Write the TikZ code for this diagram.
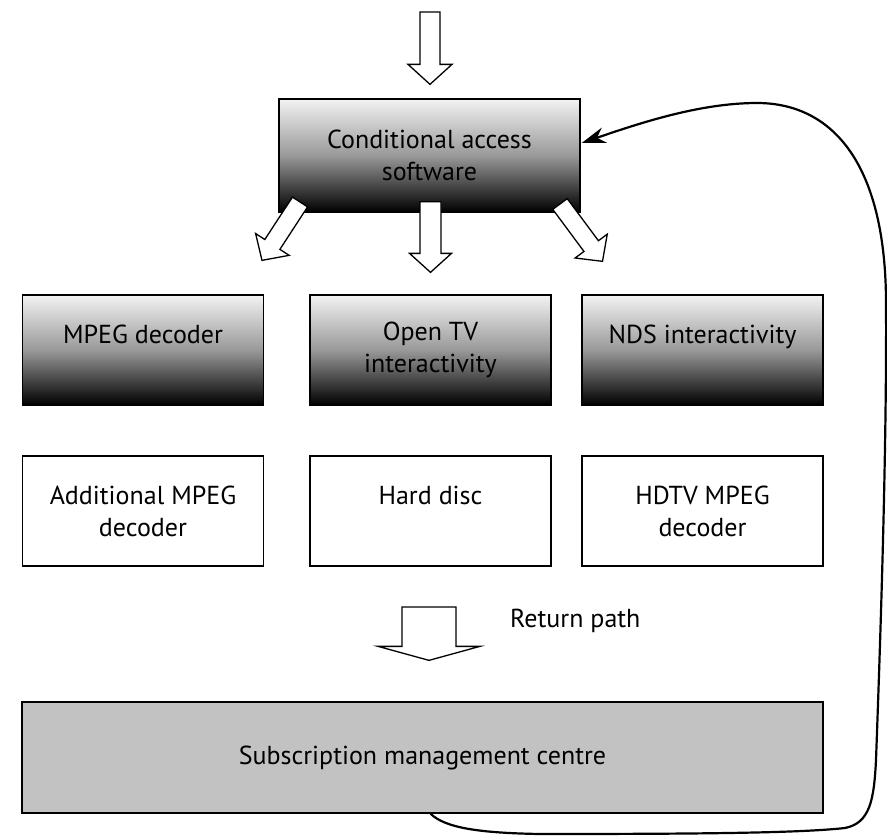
\documentclass[tikz,border=0pt]{standalone}
\usepackage{fontspec}
\setmainfont{PT Sans}
\usetikzlibrary{calc,arrows.meta}
\tikzset{
  boxbase/.style={draw=black, line width=1.3pt, align=center, inner sep=0pt,
    font=\fontsize{26}{32}\selectfont},
  gradbox/.style={boxbase, top color=black!5, bottom color=black, middle color=black!40},
  plainbox/.style={boxbase, fill=white},
  greybox/.style={boxbase, fill=black!24},
  fatarrowstyle/.style={draw=black, fill=white, line width=1.3pt, line join=miter},
  returnline/.style={draw=black, line width=2.2pt, -{Stealth[length=24pt,width=16pt]}},
  labeltext/.style={inner sep=0pt, font=\fontsize{26}{32}\selectfont}
}
\newcommand\fatarrow[5]{%
  \coordinate (fa-hb) at ($(#2)!#5!(#1)$);
  \draw[fatarrowstyle] ($(#1)!#3!90:(#2)$) -- ($(fa-hb)!#3!90:(#2)$) -- ($(fa-hb)!#4!90:(#2)$) -- (#2) -- ($(fa-hb)!#4!-90:(#2)$) -- ($(fa-hb)!#3!-90:(#2)$) -- ($(#1)!#3!-90:(#2)$) -- cycle;
}
\begin{document}
\begin{tikzpicture}[x=1pt,y=-1pt]
\useasboundingbox (0,0) rectangle (887,836);

% main boxes
\node[gradbox, minimum width=301pt, minimum height=113pt] (ca) at (429.5,155.5) {Conditional access\\software};

\node[gradbox, minimum width=241pt, minimum height=110pt] (mpeg) at (143,350) {MPEG decoder\\\phantom{x}};
\node[gradbox, minimum width=241pt, minimum height=110pt] (otv) at (430.5,350) {Open TV\\interactivity};
\node[gradbox, minimum width=241pt, minimum height=110pt] (nds) at (702.5,350) {NDS interactivity\\\phantom{x}};

\node[plainbox, minimum width=241pt, minimum height=110pt] (add) at (143,511) {Additional MPEG\\decoder};
\node[plainbox, minimum width=241pt, minimum height=110pt] (hd) at (430.5,511) {Hard disc\\\phantom{x}};
\node[plainbox, minimum width=241pt, minimum height=110pt] (hdtv) at (702.5,511) {HDTV MPEG\\decoder};

\node[greybox, minimum width=801pt, minimum height=111pt] (sub) at (422.5,757.5) {Subscription management centre};

\node[labeltext, anchor=west] (rp) at (510,621) {Return path};

% block arrows
\coordinate (inA) at (430,12);
\coordinate (inB) at ($(ca.north)+(0.5,-14)$);
\fatarrow{inA}{inB}{10pt}{22pt}{20pt}

\coordinate (mA) at ($(ca.south)+(1,-11)$);
\coordinate (mB) at ($(otv.north)+(0,-22)$);
\fatarrow{mA}{mB}{10.5pt}{21pt}{19pt}

\coordinate (lA) at (300,202);
\coordinate (lB) at ($(mpeg.north)+(119,-34)$);
\fatarrow{lA}{lB}{9pt}{20pt}{19pt}

\coordinate (rA) at (560,204);
\coordinate (rB) at ($(nds.north)+(-100,-33)$);
\fatarrow{rA}{rB}{9pt}{20pt}{19pt}

\coordinate (retA) at (429,607);
\coordinate (retB) at ($(sub.north)+(6.5,-41)$);
\fatarrow{retA}{retB}{27pt}{51pt}{14pt}

% return curve
\coordinate (cs) at ($(sub.south)+(8,0)$);
\coordinate (ce) at ($(ca.east)+(1,-12.5)$);
\draw[returnline] (cs) .. controls (445,828) and (480,833) .. (540,834)
  .. controls (700,834) and (800,833) .. (845,828)
  .. controls (870,823) and (874,800) .. (876,760)
  .. controls (880,650) and (887,450) .. (886,300)
  .. controls (885,160) and (830,103) .. (757,103)
  .. controls (700,103) and (640,123) .. (ce);
\end{tikzpicture}
\end{document}
